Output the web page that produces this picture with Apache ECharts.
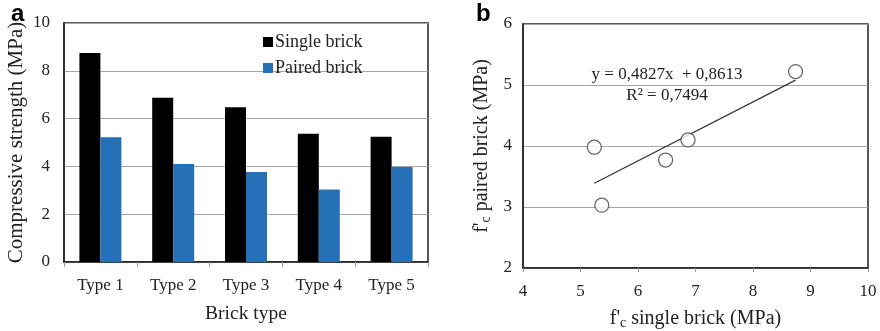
<!DOCTYPE html>
<html>
<head>
<meta charset="utf-8">
<script src="https://cdn.jsdelivr.net/npm/echarts@6/dist/echarts.min.js"></script>
<style>
  html, body { margin: 0; padding: 0; background: #fff; }
  #chart { width: 880px; height: 331px; }
</style>
</head>
<body>
<div id="chart"></div>
<script>
// Compressive strength per brick type (MPa)
const brickTypes = ['Type 1', 'Type 2', 'Type 3', 'Type 4', 'Type 5'];
const singleBrick = [8.74, 6.87, 6.48, 5.37, 5.24];
const pairedBrick = [5.22, 4.10, 3.77, 3.03, 3.98];

// Linear fit of paired vs single strength
const fitSlope = 0.4827;
const fitIntercept = 0.8613;
const fitR2 = 0.7494;

const serif = 'Liberation Serif, Times New Roman, serif';
const textColor = '#222';
const gridColor = '#a6a6a6';

// scatter pairs: (single, paired)
const scatterPoints = singleBrick.map((s, i) => [s, pairedBrick[i]]);
const xMinFit = Math.min(...singleBrick);
const xMaxFit = Math.max(...singleBrick);
const fitLine = [xMinFit, xMaxFit].map(x => [x, fitSlope * x + fitIntercept]);

const fmt = v => v.toFixed(4).replace('.', ',');

const chart = echarts.init(document.getElementById('chart'));
chart.setOption({
  animation: false,
  textStyle: { fontFamily: serif },
  grid: [
    { left: 64, top: 23, width: 364, height: 239, outerBoundsMode: 'none', containLabel: false, show: true, borderColor: '#222', borderWidth: 1.5, backgroundColor: 'transparent' },
    { left: 523, top: 24, width: 345, height: 244, outerBoundsMode: 'none', containLabel: false, show: true, borderColor: '#222', borderWidth: 1.5, backgroundColor: 'transparent' }
  ],
  legend: {
    data: ['Single brick', 'Paired brick'],
    orient: 'vertical',
    left: 258,
    top: 28,
    itemWidth: 10,
    itemHeight: 10,
    itemGap: 8,
    icon: 'rect',
    textStyle: { fontFamily: serif, fontSize: 18, color: textColor, padding: [0, 0, 0, -3] }
  },
  xAxis: [
    {
      gridIndex: 0,
      type: 'category',
      data: brickTypes,
      axisLine: { lineStyle: { color: '#222', width: 1.5 } },
      axisTick: { show: true, length: 5, lineStyle: { color: '#999' } },
      axisLabel: { fontSize: 17, color: textColor, margin: 15, fontFamily: serif },
      name: 'Brick type',
      nameLocation: 'middle',
      nameGap: 42,
      nameTextStyle: { fontSize: 19.5, color: textColor, fontFamily: serif }
    },
    {
      gridIndex: 1,
      type: 'value',
      min: 4, max: 10, interval: 1,
      axisLine: { lineStyle: { color: '#222', width: 1.5 } },
      axisTick: { show: true, length: 4, lineStyle: { color: '#999' } },
      axisLabel: { fontSize: 17, color: textColor, margin: 15, fontFamily: serif },
      splitLine: { show: false },
      name: "{n|f'}{s|c}{n| single brick (MPa)}",
      nameLocation: 'middle',
      nameGap: 40,
      nameTextStyle: {
        rich: {
          n: { fontSize: 20, color: textColor, fontFamily: serif },
          s: { fontSize: 14, color: textColor, fontFamily: serif, verticalAlign: 'bottom', padding: [8, 0, 0, 0] }
        }
      }
    }
  ],
  yAxis: [
    {
      gridIndex: 0,
      type: 'value',
      min: 0, max: 10, interval: 2,
      axisLine: { show: true, lineStyle: { color: '#222', width: 1.5 } },
      axisTick: { show: false },
      axisLabel: { fontSize: 17, color: textColor, margin: 14, fontFamily: serif },
      splitLine: { lineStyle: { color: gridColor, width: 1 } },
      name: 'Compressive strength (MPa)',
      nameLocation: 'middle',
      nameGap: 37,
      nameTextStyle: { fontSize: 21, color: textColor, fontFamily: serif }
    },
    {
      gridIndex: 1,
      type: 'value',
      min: 2, max: 6, interval: 1,
      axisLine: { show: true, lineStyle: { color: '#222', width: 1.5 } },
      axisTick: { show: false },
      axisLabel: { fontSize: 17, color: textColor, margin: 11, fontFamily: serif },
      splitLine: { lineStyle: { color: gridColor, width: 1 } },
      name: "{n|f'}{s|c}{n| paired brick (MPa)}",
      nameLocation: 'middle',
      nameGap: 30,
      nameTextStyle: {
        rich: {
          n: { fontSize: 20, color: textColor, fontFamily: serif },
          s: { fontSize: 14, color: textColor, fontFamily: serif, verticalAlign: 'bottom', padding: [8, 0, 0, 0] }
        }
      }
    }
  ],
  series: [
    {
      name: 'Single brick',
      type: 'bar',
      xAxisIndex: 0, yAxisIndex: 0,
      data: singleBrick,
      barWidth: 21,
      barGap: '0%',
      itemStyle: { color: '#000' }
    },
    {
      name: 'Paired brick',
      type: 'bar',
      xAxisIndex: 0, yAxisIndex: 0,
      data: pairedBrick,
      barWidth: 21,
      barGap: '0%',
      itemStyle: { color: '#2670b8' }
    },
    {
      name: 'fit',
      type: 'line',
      xAxisIndex: 1, yAxisIndex: 1,
      data: fitLine,
      symbol: 'none',
      lineStyle: { color: '#333', width: 1.2 },
      z: 2
    },
    {
      name: 'points',
      type: 'scatter',
      xAxisIndex: 1, yAxisIndex: 1,
      data: scatterPoints,
      symbol: 'circle',
      symbolSize: 14,
      itemStyle: { color: '#fff', borderColor: '#444', borderWidth: 1.3 },
      z: 3
    }
  ],
  graphic: [
    { type: 'text', left: 11, top: 2, style: { text: 'a', font: 'bold 24px Liberation Sans, Arial, sans-serif', fill: '#000' } },
    { type: 'text', left: 476, top: 2, style: { text: 'b', font: 'bold 24px Liberation Sans, Arial, sans-serif', fill: '#000' } },
    { type: 'text', x: 667, y: 75, style: { text: 'y = ' + fmt(fitSlope) + 'x  + ' + fmt(fitIntercept), font: '17px ' + serif, fill: textColor, align: 'center', verticalAlign: 'middle' } },
    { type: 'text', x: 667, y: 96, style: { text: 'R² = ' + fmt(fitR2), font: '17px ' + serif, fill: textColor, align: 'center', verticalAlign: 'middle' } }
  ]
});
</script>
</body>
</html>
